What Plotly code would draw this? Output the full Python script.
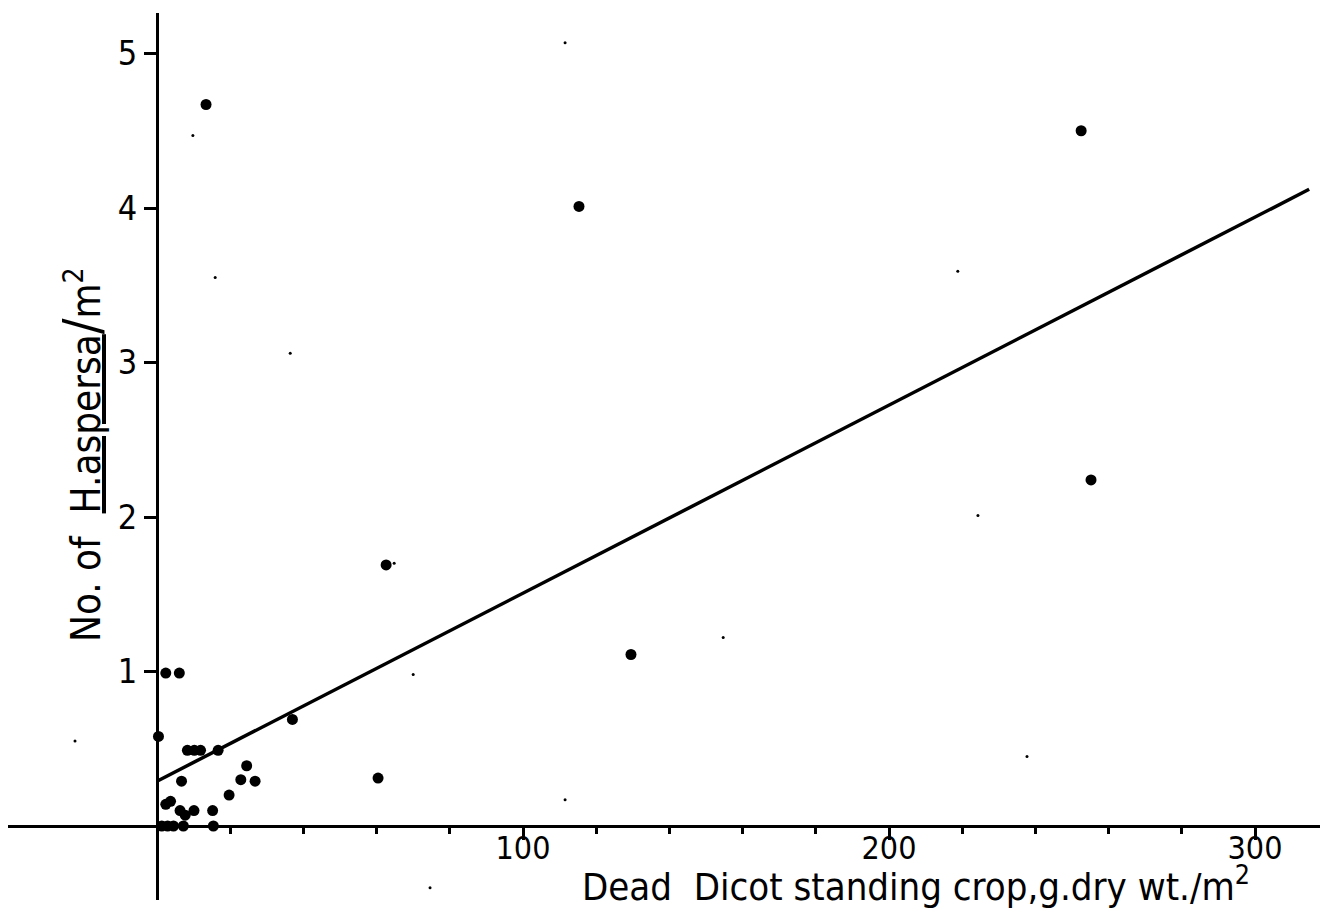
import plotly.graph_objects as go

# --- data ---
dicot_x = [13.4, 252.5, 115.3, 255.2, 129.5, 62.6, 60.4, 37.0,
           2.4, 6.1, 0.4, 8.3, 10.2, 11.9, 16.7, 24.5, 22.9, 26.8, 6.7, 19.7,
           2.4, 3.7, 6.3, 7.7, 10.1, 15.2,
           1.3, 2.9, 4.5, 7.2, 15.4]
snails_y = [4.67, 4.50, 4.01, 2.24, 1.11, 1.69, 0.31, 0.69,
            0.99, 0.99, 0.58, 0.49, 0.49, 0.49, 0.49, 0.39, 0.30, 0.29, 0.29, 0.20,
            0.14, 0.16, 0.10, 0.07, 0.10, 0.10,
            0.0, 0.0, 0.0, 0.0, 0.0]

# scan specks (tiny dots on the original figure)
speck_x = [9.8, 15.9, 36.4, 111.5, 64.8, 70.0, 154.7, 218.8, 224.3, 237.7, 111.5, -22.4, 74.6]
speck_y = [4.47, 3.55, 3.06, 5.07, 1.70, 0.98, 1.22, 3.59, 2.01, 0.45, 0.17, 0.55, -0.40]

# regression line
reg_intercept = 0.29
reg_slope = 0.01217
reg_x = [0.0, 314.8]
reg_y = [reg_intercept + reg_slope * v for v in reg_x]

x_major = [100, 200, 300]
x_minor = [20, 40, 60, 80, 120, 140, 160, 180, 220, 240, 260, 280]
y_major = [1, 2, 3, 4, 5]

FONT = "DejaVu Sans Condensed, DejaVu Sans, sans-serif"
W, H = 1329, 909

fig = go.Figure()
fig.add_trace(go.Scatter(x=reg_x, y=reg_y, mode="lines",
                         line=dict(color="black", width=3.5), hoverinfo="skip"))
fig.add_trace(go.Scatter(x=dicot_x, y=snails_y, mode="markers",
                         marker=dict(color="black", size=11, line=dict(width=0))))
fig.add_trace(go.Scatter(x=speck_x, y=speck_y, mode="markers",
                         marker=dict(color="black", size=3, line=dict(width=0)),
                         hoverinfo="skip"))

# pixel geometry
x0_px, x_scale = 157.0, 3.66      # px of x=0, px per unit
y0_px, y_scale = 826.0, 154.5     # px of y=0, px per unit
xl_px, xr_px = 8.0, 1320.0
yt_px, yb_px = 13.0, 900.0

fig.update_layout(
    width=W, height=H,
    margin=dict(l=0, r=0, t=0, b=0),
    paper_bgcolor="white", plot_bgcolor="white",
    showlegend=False,
    font=dict(family=FONT, color="black", size=34),
    xaxis=dict(
        domain=[xl_px / W, xr_px / W],
        range=[(xl_px - x0_px) / x_scale, (xr_px - x0_px) / x_scale],
        anchor="free", position=1 - y0_px / H,
        showline=True, linecolor="black", linewidth=3,
        showgrid=False, zeroline=False,
        tickmode="array", tickvals=x_major, ticktext=[str(v) for v in x_major],
        ticks="outside", ticklen=12, tickwidth=2.5, tickcolor="black",
        ticklabelstandoff=-19,
        minor=dict(tickmode="array", tickvals=x_minor, ticks="outside",
                   ticklen=6, tickwidth=2.5, tickcolor="black"),
        tickfont=dict(size=32, family=FONT),
    ),
    yaxis=dict(
        domain=[1 - yb_px / H, 1 - yt_px / H],
        range=[(y0_px - yb_px) / y_scale, (y0_px - yt_px) / y_scale],
        anchor="free", position=x0_px / W,
        showline=True, linecolor="black", linewidth=3,
        showgrid=False, zeroline=False,
        tickmode="array", tickvals=y_major, ticktext=[str(v) for v in y_major],
        ticks="outside", ticklen=12, tickwidth=2.5, tickcolor="black",
        tickfont=dict(size=34, family=FONT),
    ),
    annotations=[
        dict(text="Dead\u00a0\u00a0Dicot standing crop,g.dry wt./m<sup>2</sup>",
             xref="paper", yref="paper", x=916 / W, y=1 - 884 / H,
             xanchor="center", yanchor="middle", showarrow=False,
             font=dict(size=38, family=FONT)),
        dict(text="No. of\u00a0\u00a0<u>H.aspersa</u><span style='font-size:52px'>/</span>m<sup>2</sup>",
             xref="paper", yref="paper", x=82 / W, y=1 - 455 / H,
             xanchor="center", yanchor="middle", textangle=-90, showarrow=False,
             font=dict(size=40, family=FONT)),
    ],
)

fig.write_html("out.html")
